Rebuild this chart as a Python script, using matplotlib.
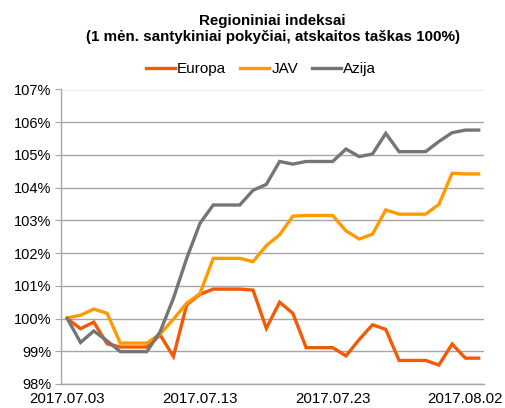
import matplotlib
matplotlib.use("Agg")
import matplotlib.pyplot as plt
import numpy as np
from matplotlib.ticker import FixedLocator, FuncFormatter

plt.rcParams['font.family'] = ['Liberation Sans', 'DejaVu Sans']

# day offsets from 2017.07.03 (calendar days)
days = list(range(32))
tick_days = [0, 10, 20, 30]
tick_labels = ["2017.07.03", "2017.07.13", "2017.07.23", "2017.08.02"]

europa = [100.0, 99.69, 99.89, 99.23, 99.13, 99.13, 99.13, 99.5, 98.84, 100.42,
          100.74, 100.9, 100.9, 100.9, 100.87, 99.7, 100.5, 100.16, 99.11, 99.11,
          99.11, 98.86, 99.36, 99.81, 99.67, 98.72, 98.72, 98.72, 98.58, 99.22,
          98.79, 98.79]
jav = [100.02, 100.1, 100.29, 100.16, 99.25, 99.25, 99.25, 99.53, 99.98, 100.47,
       100.76, 101.84, 101.84, 101.84, 101.74, 102.23, 102.56, 103.13, 103.15, 103.15,
       103.15, 102.68, 102.43, 102.58, 103.32, 103.19, 103.19, 103.19, 103.49, 104.44,
       104.42, 104.42]
azija = [100.0, 99.27, 99.62, 99.32, 98.99, 98.99, 98.99, 99.6, 100.62, 101.84,
         102.91, 103.47, 103.47, 103.47, 103.92, 104.1, 104.8, 104.72, 104.8, 104.8,
         104.8, 105.18, 104.95, 105.03, 105.66, 105.1, 105.1, 105.1, 105.41, 105.68,
         105.76, 105.76]

yticks = list(range(98, 108))

W, H = 505, 408
fig = plt.figure(figsize=(W / 100, H / 100), dpi=100)
left, right, top, bottom = 61, 484, 89.5, 384
ax = fig.add_axes([left / W, 1 - bottom / H, (right - left) / W, (bottom - top) / H])

c_eu = '#F25A05'
c_us = '#FF9A00'
c_as = '#757575'
lw = 2.4
ax.plot(days, europa, color=c_eu, lw=lw, label='Europa', solid_joinstyle='miter', zorder=3)
ax.plot(days, jav, color=c_us, lw=lw, label='JAV', solid_joinstyle='miter', zorder=3)
ax.plot(days, azija, color=c_as, lw=lw, label='Azija', solid_joinstyle='miter', zorder=3)

ax.set_xlim(-0.47, 31.4)
ax.set_ylim(98, 107)
ax.yaxis.set_major_locator(FixedLocator(yticks))
ax.yaxis.set_major_formatter(FuncFormatter(lambda v, p: f"{int(round(v))}%"))
ax.set_xticks(tick_days)
ax.set_xticklabels(tick_labels)
ax.grid(axis='y', color='#A6A6A6', lw=1.0, zorder=0)
ax.set_axisbelow(True)

for s in ['top', 'right']:
    ax.spines[s].set_visible(False)
for s in ['left', 'bottom']:
    ax.spines[s].set_color('#A6A6A6')
    ax.spines[s].set_linewidth(1.0)

ax.tick_params(axis='y', length=4, color='#A6A6A6', labelsize=10.5, pad=3, labelcolor='#000000')
ax.tick_params(axis='x', length=0, labelsize=10.8, pad=6, labelcolor='#000000')

fig.text((left + right) / 2 / W, 1 - 29 / H,
         "Regioniniai indeksai\n(1 mėn. santykiniai pokyčiai, atskaitos taškas 100%)",
         ha='center', va='center', fontsize=10.9, fontweight='bold', linespacing=1.1)

leg = fig.legend(loc='center', bbox_to_anchor=(261 / W, 1 - 69 / H), ncol=3,
                 frameon=False, fontsize=11, handlelength=1.9, handletextpad=0.15,
                 columnspacing=0.9)

fig.savefig('out.png', dpi=100)
